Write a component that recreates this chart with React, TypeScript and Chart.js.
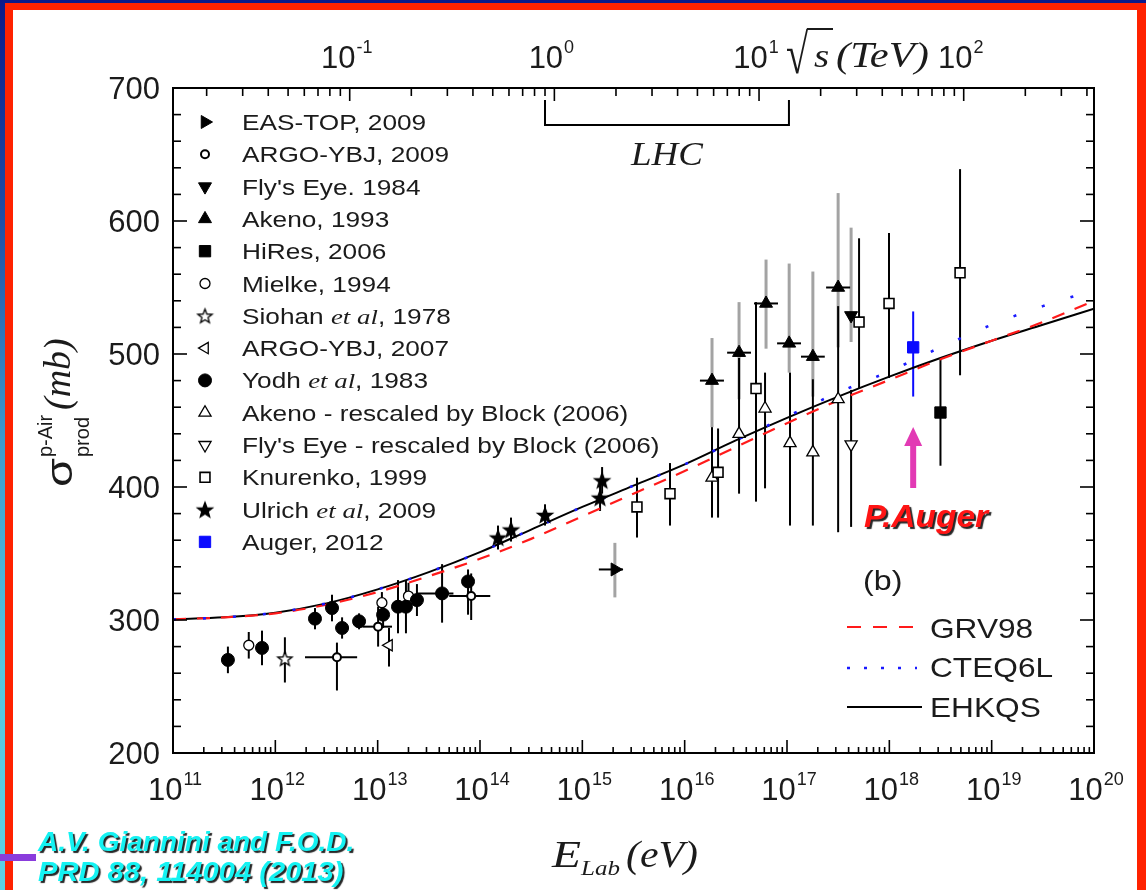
import React, { useEffect, useRef } from 'react';
import { Chart, registerables } from 'chart.js';
import { drawPoint } from 'chart.js/helpers';

Chart.register(...registerables);

// ---------------- data ----------------
// theory curves (E_lab in eV, sigma in mb)
const curveEnergy = [1e11, 3.16e11, 1e12, 3.16e12, 1e13, 3.16e13, 1e14, 3.16e14, 1e15, 3.16e15, 1e16, 3.16e16, 1e17, 3.16e17, 1e18, 3.16e18, 1e19, 3.16e19, 1e20];
const sigmaEHKQS = [300.5, 302, 305.5, 312.5, 323, 336, 351, 368, 385, 401, 417, 435, 452, 468, 483, 497, 510, 522, 534];
const sigmaGRV98 = [300.5, 302, 305, 311.5, 321, 333, 346, 361, 378, 395, 412, 430, 448, 465, 480.5, 496, 510, 524, 540];
const sigmaCTEQ6L = [300.5, 302, 305.5, 312.5, 323, 336, 351, 368, 385, 401, 417, 435, 453, 471, 487, 505, 522, 536, 548];

const easTopE = [2.08e15];
const easTopSigma = [338];
const easTopUp = [20];
const easTopDn = [21];
const easTopELo = [1.45e15];
const easTopEHi = [2.5e15];

const argo09E = [4.0e12, 1.01e13, 8.2e13];
const argo09Sigma = [272, 295, 318];
const argo09Up = [11, 15, 17];
const argo09Dn = [25, 15, 18];
const argo09ELo = [1.95e12, 7.1e12, 5.0e13];
const argo09EHi = [6.3e12, 1.38e13, 1.26e14];

const flysEyeE = [4.23e17];
const flysEyeSigma = [529];
const flysEyeUp = [66];
const flysEyeDn = [20];

const akenoE = [1.85e16, 3.4e16, 6.24e16, 1.05e17, 1.79e17, 3.16e17];
const akenoSigma = [480, 501, 538, 508, 498, 550];
const akenoUp = [32, 38, 33, 60, 64, 71];
const akenoDn = [35, 35, 34, 22, 30, 45];
const akenoELo = [1.41e16, 2.6e16, 4.76e16, 8.0e16, 1.37e17, 2.41e17];
const akenoEHi = [2.42e16, 4.45e16, 8.17e16, 1.37e17, 2.34e17, 4.14e17];

const hiresE = [3.16e18];
const hiresSigma = [456];
const hiresUp = [40];
const hiresDn = [40];

const mielkeE = [5.5e11, 1.1e13, 2.0e13];
const mielkeSigma = [281, 313, 318];
const mielkeUp = [10, 8, 10];
const mielkeDn = [10, 8, 10];

const siohanE = [1.24e12];
const siohanSigma = [271];
const siohanUp = [16];
const siohanDn = [18];

const argo07E = [1.29e13];
const argo07Sigma = [281];
const argo07Up = [13];
const argo07Dn = [16];

const yodhE = [3.44e11, 7.41e11, 2.44e12, 3.58e12, 4.49e12, 6.58e12, 1.13e13, 1.58e13, 1.89e13, 2.42e13, 4.26e13, 7.64e13];
const yodhSigma = [270, 279, 301, 309, 294, 299, 304, 310, 310, 315, 320, 329];
const yodhUp = [10, 13, 8, 10, 8, 6, 10, 20, 20, 12, 22, 9];
const yodhDn = [10, 13, 8, 10, 8, 6, 10, 20, 20, 12, 22, 25];
const yodhELo = [null, null, null, null, null, null, null, null, null, null, 2.4e13, null];
const yodhEHi = [null, null, null, null, null, null, null, null, null, null, 5.5e13, null];

const akenoBlockE = [1.85e16, 3.4e16, 6.1e16, 1.07e17, 1.79e17, 3.16e17];
const akenoBlockSigma = [407, 440, 459, 433, 426, 466];
const akenoBlockUp = [38, 57, 27, 53, 55, 70];
const akenoBlockDn = [30, 45, 60, 62, 55, 100];

const flysEyeBlockE = [4.23e17];
const flysEyeBlockSigma = [432];
const flysEyeBlockUp = [41];
const flysEyeBlockDn = [62];

const knurenkoE = [3.42e15, 7.19e15, 2.12e16, 4.98e16, 5.06e17, 9.93e17, 4.91e18];
const knurenkoSigma = [385, 395, 411, 474, 524, 538, 561];
const knurenkoUp = [22, 23, 33, 65, 63, 53, 78];
const knurenkoDn = [23, 24, 34, 85, 50, 56, 77];

const ulrichE = [1.5e14, 2.01e14, 4.32e14, 1.49e15, 1.56e15];
const ulrichSigma = [362, 368, 379, 392, 405];
const ulrichUp = [9, 9, 8, 10, 10];
const ulrichDn = [9, 9, 8, 10, 10];

const augerE = [1.71e18];
const augerSigma = [505];
const augerUp = [27];
const augerDn = [37];

// axes / tick labels
const xTickExponents = ['11', '12', '13', '14', '15', '16', '17', '18', '19', '20'];
const yTickLabels = ['200', '300', '400', '500', '600', '700'];
const topTickValuesTeV = [0.1, 1, 10, 100];
const topTickExponents = ['-1', '0', '1', '2'];
const lhcRangeTeV = [0.9, 14];
const PROTON_MASS_EV = 0.938e9;

// ---------------- styling ----------------
const SANS = "'Liberation Sans', Arial, Helvetica, sans-serif";
const SERIF = "'Liberation Serif', 'Times New Roman', serif";
const INK = '#1b1b1b';
const GREY = '#a3a3a3';

const eFromSqrtS = (tev: number) => (tev * 1e12) ** 2 / (2 * PROTON_MASS_EV);

type Parts = [string, boolean][];
interface SeriesCfg {
  parts: Parts;
  E: number[]; s: number[]; up: number[]; dn: number[];
  eLo?: (number | null)[]; eHi?: (number | null)[];
  style: any; rot: number; r: number; fill: string; stroke: string; bw: number;
  err: string; errW: number;
}

function makeStar(filled: boolean, R: number): HTMLCanvasElement {
  const size = Math.ceil(R * 2 + 4);
  const c = document.createElement('canvas');
  c.width = size; c.height = size;
  const g = c.getContext('2d')!;
  const cx = size / 2, cy = size / 2 + 0.8, r = R * 0.42;
  g.beginPath();
  for (let i = 0; i < 10; i++) {
    const a = -Math.PI / 2 + (i * Math.PI) / 5;
    const rr = i % 2 === 0 ? R : r;
    const px = cx + rr * Math.cos(a), py = cy + rr * Math.sin(a);
    if (i === 0) g.moveTo(px, py); else g.lineTo(px, py);
  }
  g.closePath();
  g.fillStyle = filled ? '#000' : '#fff';
  g.fill();
  g.lineWidth = 1.3; g.strokeStyle = '#000'; g.stroke();
  return c;
}

function txt(ctx: CanvasRenderingContext2D, s: string, x: number, y: number, font: string, align: 'left' | 'center' | 'right' = 'left', sx = 1, color = INK) {
  ctx.save();
  ctx.font = font;
  ctx.fillStyle = color;
  ctx.textBaseline = 'alphabetic';
  ctx.textAlign = 'left';
  const w = ctx.measureText(s).width * sx;
  let x0 = x;
  if (align === 'center') x0 = x - w / 2;
  else if (align === 'right') x0 = x - w;
  ctx.translate(x0, y);
  ctx.scale(sx, 1);
  ctx.fillText(s, 0, 0);
  ctx.restore();
  return w;
}

function powLabel(ctx: CanvasRenderingContext2D, exp: string, cx: number, baseY: number, baseSize: number, supSize: number) {
  ctx.save();
  ctx.font = `${baseSize}px ${SANS}`;
  const w1 = ctx.measureText('10').width;
  ctx.font = `${supSize}px ${SANS}`;
  const w2 = ctx.measureText(exp).width;
  ctx.restore();
  const total = w1 + 1 + w2;
  const x0 = cx - total / 2;
  txt(ctx, '10', x0, baseY, `${baseSize}px ${SANS}`);
  txt(ctx, exp, x0 + w1 + 1, baseY - 15, `${supSize}px ${SANS}`);
}

function line(ctx: CanvasRenderingContext2D, x1: number, y1: number, x2: number, y2: number) {
  ctx.beginPath(); ctx.moveTo(x1, y1); ctx.lineTo(x2, y2); ctx.stroke();
}

export default function App() {
  const ref = useRef<HTMLCanvasElement>(null);

  useEffect(() => {
    const canvas = ref.current!;
    const starFilled = makeStar(true, 8);
    const starOpen = makeStar(false, 7.5);

    const series: SeriesCfg[] = [
      { parts: [['EAS-TOP, 2009', false]], E: easTopE, s: easTopSigma, up: easTopUp, dn: easTopDn, eLo: easTopELo, eHi: easTopEHi, style: 'triangle', rot: 90, r: 7.5, fill: '#000', stroke: '#000', bw: 1, err: GREY, errW: 3 },
      { parts: [['ARGO-YBJ, 2009', false]], E: argo09E, s: argo09Sigma, up: argo09Up, dn: argo09Dn, eLo: argo09ELo, eHi: argo09EHi, style: 'circle', rot: 0, r: 4, fill: '#fff', stroke: '#000', bw: 2, err: '#000', errW: 2 },
      { parts: [["Fly's Eye. 1984", false]], E: flysEyeE, s: flysEyeSigma, up: flysEyeUp, dn: flysEyeDn, style: 'triangle', rot: 180, r: 7.5, fill: '#000', stroke: '#000', bw: 1, err: GREY, errW: 3 },
      { parts: [['Akeno, 1993', false]], E: akenoE, s: akenoSigma, up: akenoUp, dn: akenoDn, eLo: akenoELo, eHi: akenoEHi, style: 'triangle', rot: 0, r: 7.5, fill: '#000', stroke: '#000', bw: 1, err: GREY, errW: 3 },
      { parts: [['HiRes, 2006', false]], E: hiresE, s: hiresSigma, up: hiresUp, dn: hiresDn, style: 'rect', rot: 0, r: 8, fill: '#000', stroke: '#000', bw: 1, err: '#000', errW: 2 },
      { parts: [['Mielke, 1994', false]], E: mielkeE, s: mielkeSigma, up: mielkeUp, dn: mielkeDn, style: 'circle', rot: 0, r: 5, fill: '#fff', stroke: '#000', bw: 1.3, err: '#000', errW: 2 },
      { parts: [['Siohan ', false], ['et al', true], [', 1978', false]], E: siohanE, s: siohanSigma, up: siohanUp, dn: siohanDn, style: starOpen, rot: 0, r: 7, fill: '#fff', stroke: '#000', bw: 1, err: '#000', errW: 2 },
      { parts: [['ARGO-YBJ, 2007', false]], E: argo07E, s: argo07Sigma, up: argo07Up, dn: argo07Dn, style: 'triangle', rot: -90, r: 6.5, fill: '#fff', stroke: '#000', bw: 1.3, err: '#000', errW: 2 },
      { parts: [['Yodh ', false], ['et al', true], [', 1983', false]], E: yodhE, s: yodhSigma, up: yodhUp, dn: yodhDn, eLo: yodhELo, eHi: yodhEHi, style: 'circle', rot: 0, r: 6.5, fill: '#000', stroke: '#000', bw: 1, err: '#000', errW: 2 },
      { parts: [['Akeno - rescaled by Block (2006)', false]], E: akenoBlockE, s: akenoBlockSigma, up: akenoBlockUp, dn: akenoBlockDn, style: 'triangle', rot: 0, r: 7, fill: '#fff', stroke: '#000', bw: 1.3, err: '#000', errW: 2 },
      { parts: [["Fly's Eye - rescaled by Block (2006)", false]], E: flysEyeBlockE, s: flysEyeBlockSigma, up: flysEyeBlockUp, dn: flysEyeBlockDn, style: 'triangle', rot: 180, r: 7, fill: '#fff', stroke: '#000', bw: 1.3, err: '#000', errW: 2 },
      { parts: [['Knurenko, 1999', false]], E: knurenkoE, s: knurenkoSigma, up: knurenkoUp, dn: knurenkoDn, style: 'rect', rot: 0, r: 7, fill: '#fff', stroke: '#000', bw: 1.6, err: '#000', errW: 2 },
      { parts: [['Ulrich ', false], ['et al', true], [', 2009', false]], E: ulrichE, s: ulrichSigma, up: ulrichUp, dn: ulrichDn, style: starFilled, rot: 0, r: 8, fill: '#000', stroke: '#000', bw: 1, err: '#000', errW: 2 },
      { parts: [['Auger, 2012', false]], E: augerE, s: augerSigma, up: augerUp, dn: augerDn, style: 'rect', rot: 0, r: 8, fill: '#0a0aff', stroke: '#0a0aff', bw: 1, err: '#0a0aff', errW: 2 },
    ];

    const curves = [
      { label: 'GRV98', s: sigmaGRV98, color: '#ff1a1a', dash: [13, 11], width: 2.2, legendDash: [14, 12], legendY: 627, textY: 638, x2: 915 },
      { label: 'CTEQ6L', s: sigmaCTEQ6L, color: '#1a1aff', dash: [3, 27], width: 2.6, legendDash: [3, 14], legendY: 668, textY: 677, x2: 917 },
      { label: 'EHKQS', s: sigmaEHKQS, color: '#000000', dash: [], width: 2, legendDash: [], legendY: 707, textY: 717, x2: 922 },
    ];

    const datasets: any[] = [];
    [...series].reverse().forEach((sr) => {
      datasets.push({
        label: sr.parts.map((p) => p[0]).join(''),
        data: sr.E.map((e, i) => ({ x: e, y: sr.s[i] })),
        showLine: false,
        pointStyle: sr.style,
        pointRotation: sr.rot,
        pointRadius: sr.r,
        pointHoverRadius: sr.r,
        pointBackgroundColor: sr.fill,
        pointBorderColor: sr.stroke,
        pointBorderWidth: sr.bw,
      });
    });
    [curves[1], curves[0], curves[2]].forEach((c) => {
      datasets.push({
        label: c.label,
        data: curveEnergy.map((e, i) => ({ x: e, y: c.s[i] })),
        showLine: true,
        pointRadius: 0,
        pointHoverRadius: 0,
        borderColor: c.color,
        borderWidth: c.width,
        borderDash: c.dash,
        cubicInterpolationMode: 'monotone',
        fill: false,
      });
    });

    const decor = {
      id: 'decor',
      beforeDatasetsDraw(chart: any) {
        const ctx: CanvasRenderingContext2D = chart.ctx;
        const xs = chart.scales.x, ys = chart.scales.y;
        const a = chart.chartArea;
        ctx.save();
        ctx.beginPath();
        ctx.rect(a.left, a.top, a.right - a.left, a.bottom - a.top);
        ctx.clip();
        ctx.lineCap = 'butt';
        const ordered = [...series].sort((p, q) => (p.err === GREY ? -1 : 0) - (q.err === GREY ? -1 : 0));
        ordered.forEach((sr) => {
          ctx.strokeStyle = sr.err;
          ctx.lineWidth = sr.errW;
          sr.E.forEach((e, i) => {
            const x = xs.getPixelForValue(e);
            const y = ys.getPixelForValue(sr.s[i]);
            line(ctx, x, ys.getPixelForValue(sr.s[i] + sr.up[i]), x, ys.getPixelForValue(sr.s[i] - sr.dn[i]));
            if (sr.eLo && sr.eHi && sr.eLo[i] != null && sr.eHi[i] != null) {
              ctx.lineWidth = 2;
              ctx.strokeStyle = sr.err === GREY ? '#000' : sr.err;
              line(ctx, xs.getPixelForValue(sr.eLo[i] as number), y, xs.getPixelForValue(sr.eHi[i] as number), y);
              ctx.strokeStyle = sr.err;
              ctx.lineWidth = sr.errW;
            }
          });
        });
        ctx.restore();
      },
      afterDraw(chart: any) {
        const ctx: CanvasRenderingContext2D = chart.ctx;
        const xs = chart.scales.x, ys = chart.scales.y;
        const { left, right, top, bottom } = chart.chartArea;
        ctx.save();
        ctx.strokeStyle = '#000';
        ctx.lineWidth = 2;
        ctx.strokeRect(left, top, right - left, bottom - top);
        ctx.lineWidth = 1.6;
        for (let d = 11; d <= 20; d++) {
          for (let m = 1; m <= 9; m++) {
            const v = m * 10 ** d;
            if (v > 1e20 * 1.0001) break;
            const x = xs.getPixelForValue(v);
            line(ctx, x, bottom, x, bottom - (m === 1 ? 13 : 6));
          }
        }
        for (let k = -2; k <= 2; k++) {
          for (let m = 1; m <= 9; m++) {
            const E = eFromSqrtS(m * 10 ** k);
            if (E < 1e11 || E > 1e20) continue;
            const x = xs.getPixelForValue(E);
            line(ctx, x, top, x, top + (m === 1 ? 13 : 8));
          }
        }
        for (let v = 200; v <= 700; v += 20) {
          const y = ys.getPixelForValue(v);
          const len = v % 100 === 0 ? 14 : 8;
          line(ctx, left, y, left + len, y);
          line(ctx, right, y, right - len, y);
        }
        xTickExponents.forEach((ex) => {
          const x = xs.getPixelForValue(10 ** Number(ex));
          powLabel(ctx, ex, x + 2, 800, 31, 18);
        });
        topTickValuesTeV.forEach((v, i) => {
          const x = xs.getPixelForValue(eFromSqrtS(v));
          powLabel(ctx, topTickExponents[i], x - 3, 68, 31, 18);
        });
        yTickLabels.forEach((t) => {
          const y = ys.getPixelForValue(Number(t));
          txt(ctx, t, 160, y + 11, `31px ${SANS}`, 'right');
        });

        // top axis title: sqrt(s) (TeV)
        ctx.save();
        ctx.font = `56px ${SERIF}`;
        const m = ctx.measureText('√');
        const rootTop = 73 - m.actualBoundingBoxAscent;
        const rootRight = 786 + m.actualBoundingBoxRight * 0.72;
        ctx.restore();
        txt(ctx, '√', 786, 73, `56px ${SERIF}`, 'left', 0.72);
        ctx.strokeStyle = INK;
        ctx.lineWidth = 2;
        line(ctx, rootRight - 1.5, rootTop + 1, 833, rootTop + 1);
        txt(ctx, 's', 814, 67, `italic 34px ${SERIF}`, 'left', 1.15);
        txt(ctx, '(TeV)', 836, 67, `italic 36px ${SERIF}`, 'left', 1.18);

        // LHC bracket
        const lx1 = xs.getPixelForValue(eFromSqrtS(lhcRangeTeV[0]));
        const lx2 = xs.getPixelForValue(eFromSqrtS(lhcRangeTeV[1]));
        ctx.strokeStyle = '#000';
        ctx.beginPath();
        ctx.moveTo(lx1, 100); ctx.lineTo(lx1, 125); ctx.lineTo(lx2, 125); ctx.lineTo(lx2, 100);
        ctx.stroke();
        txt(ctx, 'LHC', (lx1 + lx2) / 2, 165, `italic 33px ${SERIF}`, 'center', 1.12);

        // x-axis title
        let cx = 552;
        cx += txt(ctx, 'E', cx, 867, `italic 38px ${SERIF}`, 'left', 1.25);
        cx += txt(ctx, 'Lab', cx, 875, `italic 20px ${SERIF}`, 'left', 1.25);
        txt(ctx, '(eV)', 626, 867, `italic 38px ${SERIF}`, 'left', 1.1);

        // y-axis title (rotated)
        ctx.save();
        ctx.translate(72, 487);
        ctx.rotate(-Math.PI / 2);
        txt(ctx, 'σ', 0, 0, `36px ${SANS}`, 'left', 1.3);
        txt(ctx, 'p-Air', 30, -20, `20px ${SANS}`);
        txt(ctx, 'prod', 30, 17, `20px ${SANS}`);
        txt(ctx, '(mb)', 77, -2, `italic 38px ${SERIF}`, 'left', 1.0);
        ctx.restore();

        // data legend (top-left)
        series.forEach((sr, i) => {
          const y = 122 + i * 32.3;
          ctx.save();
          ctx.fillStyle = sr.fill;
          ctx.strokeStyle = sr.stroke;
          ctx.lineWidth = sr.bw;
          drawPoint(ctx, { pointStyle: sr.style, rotation: sr.rot, radius: sr.r, borderWidth: sr.bw } as any, 205, y);
          ctx.restore();
          let tx = 242;
          sr.parts.forEach(([t, it]) => {
            tx += txt(ctx, t, tx, y + 8, it ? `italic 22px ${SERIF}` : `21.5px ${SANS}`, 'left', 1.22);
          });
        });

        // theory legend (bottom-right)
        txt(ctx, '(b)', 863, 590, `28px ${SANS}`, 'left', 1.15);
        curves.forEach((c) => {
          ctx.save();
          ctx.strokeStyle = c.color;
          ctx.lineWidth = c.width;
          ctx.setLineDash(c.legendDash);
          line(ctx, 847, c.legendY, c.x2, c.legendY);
          ctx.restore();
          txt(ctx, c.label, 930, c.textY, `28px ${SANS}`, 'left', 1.13);
        });

        // P.Auger annotation + arrow
        const ax = xs.getPixelForValue(augerE[0]);
        ctx.fillStyle = '#e23ab4';
        ctx.fillRect(ax - 3, 444, 6, 44);
        ctx.beginPath();
        ctx.moveTo(ax, 427); ctx.lineTo(ax + 9, 446); ctx.lineTo(ax - 9, 446); ctx.closePath();
        ctx.fill();
        ctx.save();
        ctx.shadowColor = 'rgba(0,0,0,0.85)';
        ctx.shadowOffsetX = 2; ctx.shadowOffsetY = 2; ctx.shadowBlur = 1;
        txt(ctx, 'P.Auger', 864, 527, `italic bold 31px ${SANS}`, 'left', 1.08, '#ff1414');
        txt(ctx, 'A.V. Giannini and F.O.D.', 38, 851, `italic bold 28px ${SANS}`, 'left', 1.0, '#14f2f2');
        txt(ctx, 'PRD 88, 114004 (2013)', 38, 881, `italic bold 28px ${SANS}`, 'left', 1.04, '#14f2f2');
        ctx.restore();
        ctx.restore();
      },
    };

    const chart = new Chart(canvas, {
      type: 'scatter',
      data: { datasets },
      options: {
        animation: false,
        responsive: false,
        devicePixelRatio: 1,
        events: [],
        layout: { padding: { left: 173, top: 88, right: 52, bottom: 137 } },
        scales: {
          x: { type: 'logarithmic', min: 1e11, max: 1e20, display: false },
          y: { type: 'linear', min: 200, max: 700, display: false },
        },
        plugins: { legend: { display: false }, tooltip: { enabled: false }, title: { display: false } },
      } as any,
      plugins: [decor],
    });
    return () => chart.destroy();
  }, []);

  return (
    <div
      style={{
        position: 'absolute', left: 0, top: 0, width: 1146, height: 890, overflow: 'hidden',
        background: 'linear-gradient(180deg, #0b1a8a 0%, #1f4fa6 25%, #3d9ccd 50%, #56c6df 75%, #5dd0e4 100%)',
      }}
    >
      <div style={{ position: 'absolute', left: 5, top: 3, width: 1141, height: 887, background: '#ff2200' }} />
      <div style={{ position: 'absolute', left: 13, top: 10, width: 1124, height: 880, background: '#ffffff' }} />
      <div style={{ position: 'absolute', left: 0, top: 854, width: 36, height: 7, background: '#8a3cdc' }} />
      <canvas ref={ref} width={1146} height={890} style={{ position: 'absolute', left: 0, top: 0, width: 1146, height: 890 }} />
    </div>
  );
}
